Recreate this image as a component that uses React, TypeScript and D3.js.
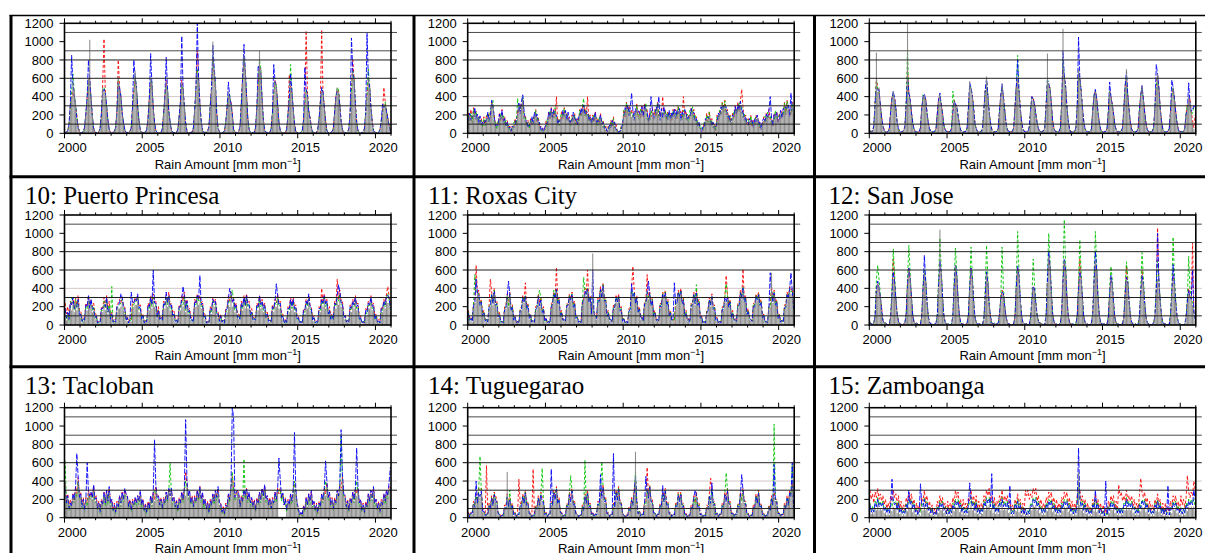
import React from "react";
import * as d3 from "d3";

// Monthly rain totals, Jan 2000 – Dec 2020, one row per year, written in cm (x10 -> mm).
const cm = (s: string): number[] => s.trim().split(/\s+/).map((v) => Number(v) * 10);

// ---------- station 7 ----------
const p7Gray = cm(`
1 1 2 8 25 40 55 48 35 15 6 2
1 0 1 5 20 35 60 102 40 20 5 1
0 1 1 4 18 50 45 42 30 12 3 1
1 0 2 6 22 62 48 40 20 10 4 1
0 1 1 5 25 40 68 50 28 14 3 1
1 0 1 3 15 35 60 55 25 10 2 1
0 0 1 4 20 38 55 48 22 12 3 1
0 1 1 3 16 30 55 50 28 10 2 0
1 0 1 5 24 45 65 58 30 12 3 1
1 1 2 6 28 48 100 70 55 20 5 2
0 0 1 2 10 25 45 40 30 18 4 1
1 0 2 6 30 55 85 70 40 15 4 1
0 1 1 5 26 50 90 72 35 14 3 1
1 0 1 4 20 40 55 50 30 12 3 1
0 0 1 3 18 35 50 45 25 10 2 1
0 0 1 2 12 28 45 40 22 15 6 1
1 0 1 3 15 32 45 42 28 12 3 1
0 1 2 5 20 38 50 45 30 12 4 1
1 0 1 4 22 45 65 58 30 12 3 1
0 1 1 4 20 40 60 50 28 12 3 1
1 0 1 3 12 20 32 30 22 15 8 2`);
const p7Red = cm(`
0 1 3 10 30 38 45 40 30 20 8 2
1 0 2 6 18 40 55 60 35 18 6 1
0 1 2 5 20 55 103 45 28 15 4 1
1 1 2 6 25 80 50 38 22 10 4 1
0 1 2 5 28 45 60 48 26 12 3 1
1 0 1 4 18 40 55 52 28 10 3 1
0 1 1 4 22 42 58 45 24 12 3 1
0 1 1 4 18 35 58 48 30 12 3 0
1 0 2 6 26 50 90 60 32 14 3 1
1 1 2 8 30 50 80 65 50 22 6 2
0 0 1 3 12 30 40 38 35 22 5 1
1 1 2 7 35 62 80 65 42 16 4 1
0 1 1 6 28 55 75 65 38 14 3 1
1 0 1 5 22 42 58 52 32 12 3 1
0 0 1 4 20 64 52 44 26 10 2 1
0 0 1 3 14 30 112 45 25 18 7 1
1 0 1 4 16 35 113 45 30 14 3 1
0 1 2 6 22 40 48 46 32 14 4 1
1 0 1 5 24 48 80 60 32 14 3 1
0 1 1 5 22 42 58 52 30 14 3 1
1 0 1 4 14 24 50 35 25 18 9 3`);
const p7Green = cm(`
1 1 2 9 28 45 65 45 32 18 7 2
0 1 1 6 22 38 58 55 38 20 5 1
1 0 1 5 20 48 50 44 30 14 4 1
0 1 2 7 24 58 45 42 22 12 4 1
1 0 1 6 26 42 62 52 30 14 3 1
0 1 1 4 16 38 58 56 26 12 3 1
0 0 1 5 20 40 52 50 24 12 3 1
1 0 1 4 18 32 52 48 28 11 2 0
0 1 1 6 25 48 70 55 30 12 3 1
1 1 2 7 30 45 85 68 52 20 5 2
0 0 1 3 11 28 42 42 32 20 4 1
1 0 2 7 32 58 82 68 40 16 4 1
0 1 1 6 27 52 80 70 36 14 3 1
1 0 1 5 22 42 56 52 30 12 3 1
0 0 1 4 20 38 75 48 26 10 2 1
0 0 1 3 13 30 48 42 24 16 6 1
1 0 1 4 15 34 48 45 28 12 3 1
0 1 2 5 22 40 50 48 30 12 4 1
1 0 1 5 24 46 68 60 30 12 3 1
0 1 1 5 22 42 70 52 28 12 3 1
1 0 1 4 13 22 30 34 24 16 9 2`);
const p7Blue = cm(`
1 1 3 10 32 85 55 42 30 16 6 2
0 1 2 6 22 40 80 58 38 18 5 1
1 0 1 5 22 45 48 44 30 14 4 1
0 1 2 6 24 55 50 40 22 12 4 1
1 0 2 6 28 80 62 50 28 14 3 1
0 1 1 4 16 38 87 52 26 12 3 1
0 0 1 5 20 40 83 48 24 12 3 1
1 0 1 4 18 35 106 50 28 11 2 0
0 1 1 6 25 50 120 60 32 12 3 1
1 1 2 7 30 50 96 72 55 22 5 2
0 0 1 3 12 28 56 40 32 20 4 1
1 0 2 7 32 60 97 70 40 16 4 1
0 1 1 6 28 74 70 66 36 14 3 1
1 0 1 5 22 75 56 50 30 12 3 1
0 0 1 4 20 38 65 46 26 10 2 1
0 0 1 3 14 72 48 42 24 16 6 1
1 0 1 4 16 34 50 45 28 12 3 1
0 1 2 5 22 40 46 44 30 12 4 1
1 0 1 5 24 104 68 58 30 12 3 1
0 1 1 5 22 110 60 50 28 12 3 1
1 0 1 4 14 32 28 30 24 16 8 2`);

// ---------- station 8 ----------
const p8Gray = cm(`
15 18 16 14 20 22 18 16 12 14 10 8
12 10 14 18 16 20 30 32 14 8 6 10
16 18 20 14 12 10 8 6 4 3 5 8
10 12 20 28 24 30 36 20 14 10 8 6
10 14 12 18 20 16 12 8 4 3 2 4
8 12 18 20 22 18 20 24 16 12 10 14
18 20 22 20 16 18 12 10 14 18 16 12
10 14 20 22 24 26 22 20 18 16 14 12
14 16 18 12 10 14 16 12 8 6 4 2
4 6 8 10 12 8 4 2 0 1 4 8
20 24 28 26 22 24 18 20 16 22 26 20
18 22 24 20 26 28 18 14 16 20 22 18
20 24 28 20 16 22 18 24 20 16 18 20
16 18 20 22 18 20 24 22 16 18 20 22
18 16 14 20 22 24 18 16 12 10 8 6
2 4 8 12 16 14 18 12 10 8 6 4
14 18 20 24 28 26 30 24 18 16 14 12
16 20 24 22 26 28 30 24 20 16 14 12
10 12 14 10 8 12 14 16 10 8 6 10
12 14 16 18 20 14 12 10 16 20 18 14
16 20 18 22 28 24 30 26 20 24 28 22`);
const p8Red = cm(`
22 14 26 12 28 20 24 14 18 12 16 8
18 10 20 16 22 18 34 28 20 8 12 10
22 14 26 12 18 8 14 5 8 2 8 6
16 10 26 22 32 24 38 18 20 8 14 6
16 10 18 14 26 12 18 6 8 2 5 3
14 8 24 16 28 16 26 18 40 10 16 12
24 16 28 18 22 14 18 8 20 14 22 10
16 10 26 18 30 22 28 18 40 14 20 10
20 12 24 10 16 10 22 10 14 5 8 2
8 4 14 8 18 6 10 2 3 1 8 6
26 18 34 22 30 20 26 18 24 20 32 18
24 16 30 18 32 24 26 12 22 18 28 16
26 18 34 18 24 18 40 20 26 14 24 18
22 14 26 18 26 16 30 20 24 16 40 20
24 14 20 16 28 20 26 14 18 8 12 5
5 2 12 10 22 12 24 10 16 6 10 3
20 14 26 20 34 22 36 20 26 12 20 10
22 16 30 20 34 24 36 48 28 14 20 10
16 8 20 8 14 10 20 14 16 6 10 8
18 12 22 16 26 14 18 8 22 18 24 12
22 16 24 18 34 20 36 22 26 20 34 30`);
const p8Green = cm(`
20 14 22 12 26 18 24 12 18 10 14 6
16 8 18 22 12 26 30 36 10 12 4 14
12 22 16 20 10 14 6 9 3 5 3 11
14 9 38 24 30 26 40 16 18 8 12 5
14 11 17 15 25 13 16 6 7 2 4 3
6 16 15 25 18 23 17 28 13 16 8 18
22 17 27 17 21 15 16 8 18 15 20 10
14 12 25 19 29 38 19 25 15 20 12 16
12 21 15 17 8 18 13 16 6 9 3 4
7 4 12 8 16 6 7 1 2 1 7 6
25 20 33 22 27 20 23 17 20 19 30 17
15 27 21 25 23 33 15 18 13 25 19 22
25 20 33 17 21 19 23 21 25 13 23 17
21 15 25 19 23 17 29 19 21 15 25 19
15 21 12 25 19 29 15 20 10 14 6 9
5 3 12 10 20 12 23 10 14 6 9 3
19 15 25 21 33 23 35 21 23 13 19 10
13 25 21 27 23 33 27 29 17 21 11 16
14 10 19 8 12 10 18 14 14 6 10 8
10 19 13 23 17 19 10 14 13 25 15 18
21 17 23 19 33 21 35 23 25 21 33 19`);
const p8Blue = cm(`
13 22 14 19 18 28 15 21 10 19 8 12
10 14 11 23 13 18 36 28 18 6 10 8
21 15 25 11 16 8 12 5 7 2 8 6
8 16 18 33 21 35 42 25 12 14 6 9
8 18 10 23 17 21 10 12 3 6 2 6
11 10 23 17 27 15 25 21 20 10 14 12
16 25 19 25 14 23 10 14 12 23 14 16
9 18 18 27 21 31 20 24 23 14 18 10
18 14 23 10 14 12 20 10 12 5 7 2
3 9 6 14 10 12 3 4 1 3 3 11
18 28 25 31 19 28 44 25 14 27 23 25
22 19 29 18 31 25 23 12 20 40 27 15
18 29 25 40 14 27 16 29 18 21 15 25
14 23 18 27 16 25 21 27 14 23 18 26
22 14 18 17 27 21 23 13 16 8 12 5
1 7 6 16 14 18 16 15 8 12 4 7
12 22 18 29 25 31 28 29 16 20 12 15
20 18 29 20 31 25 35 22 25 14 18 10
9 16 12 14 6 16 12 20 9 12 4 14
16 12 21 16 25 40 16 8 21 18 23 12
14 25 16 27 25 29 27 31 18 44 25 27`);

// ---------- station 9 ----------
const p9Gray = cm(`
2 1 2 5 30 88 45 50 30 15 8 3
2 1 1 4 20 35 46 38 25 10 4 2
1 1 2 6 30 120 40 35 20 10 4 1
2 1 1 5 25 40 42 35 22 10 4 2
1 1 2 4 20 35 43 30 20 8 3 1
2 1 1 4 20 34 30 28 18 8 3 1
1 1 1 5 25 57 50 40 25 10 4 2
2 1 2 5 25 45 62 40 22 10 4 1
1 1 1 4 22 40 54 38 24 10 3 1
1 1 2 5 28 50 60 45 26 12 4 1
2 1 2 6 24 38 35 30 20 10 4 2
1 1 2 6 30 87 55 48 30 12 5 2
1 1 2 5 30 114 60 50 28 12 4 1
2 1 1 5 28 70 58 45 26 12 4 2
1 1 2 4 24 40 45 36 22 10 4 1
1 1 1 4 22 45 38 30 20 8 3 1
2 1 2 5 26 50 70 40 24 10 4 1
1 1 1 4 24 40 52 36 22 10 3 1
2 1 2 5 28 50 65 48 26 12 4 2
1 1 1 4 22 40 50 36 22 10 3 1
1 1 2 4 20 30 40 35 22 12 5 2`);
const p9Red = cm(`
3 2 3 8 35 60 50 45 32 18 9 4
2 1 2 6 25 40 42 40 28 12 5 2
1 2 3 8 34 70 45 38 24 12 5 2
2 1 2 6 28 38 40 38 24 12 5 2
2 1 2 5 22 38 40 32 22 10 4 2
2 2 1 6 24 36 32 30 20 10 4 2
1 2 2 6 28 50 48 42 28 12 5 2
2 1 3 6 28 48 55 42 24 12 5 2
2 1 2 5 25 42 50 40 26 12 4 2
1 2 2 6 30 52 58 48 28 14 5 2
3 1 2 7 26 40 38 32 22 12 5 3
1 2 3 7 32 55 50 50 32 14 6 2
2 1 2 6 32 70 62 52 30 14 5 2
2 2 1 6 30 65 60 48 28 14 5 2
2 1 2 5 26 42 46 38 24 12 5 2
1 2 2 5 24 46 40 32 22 10 4 2
2 1 3 6 28 52 60 42 26 12 5 2
2 1 2 5 26 42 50 38 24 12 4 2
2 2 3 6 30 52 65 50 28 14 5 2
1 2 2 5 24 42 48 38 24 12 4 2
2 1 2 5 22 32 30 38 24 14 6 20`);
const p9Green = cm(`
2 2 3 7 32 58 48 46 30 16 8 3
1 2 2 5 22 38 44 36 26 11 5 2
2 1 2 7 32 90 42 36 22 11 4 2
1 2 2 5 26 42 38 36 22 11 4 1
2 1 1 5 21 36 40 31 21 9 4 2
1 2 2 5 46 35 31 29 19 9 3 2
2 1 2 5 26 52 48 41 26 11 4 2
1 2 2 6 26 46 58 41 23 11 4 1
2 1 2 5 23 41 50 39 25 11 4 1
1 2 2 6 29 51 85 46 27 13 4 2
2 1 2 6 25 39 36 31 21 11 4 2
2 1 2 6 31 60 52 49 31 13 5 2
1 2 2 5 31 80 60 51 29 13 4 2
2 1 2 6 29 68 58 46 27 13 4 2
1 2 1 5 25 42 46 37 23 11 4 1
2 1 2 5 23 46 39 31 21 9 4 2
1 2 2 6 27 52 62 41 25 11 4 2
2 1 2 5 25 41 50 37 23 11 4 1
1 2 2 6 29 51 62 49 27 13 4 2
2 1 2 5 23 41 50 37 23 11 4 1
1 2 2 5 21 31 25 30 20 22 28 30`);
const p9Blue = cm(`
3 1 2 8 34 50 46 48 30 17 8 3
2 1 2 5 24 37 46 38 27 11 5 2
1 2 3 7 33 60 44 37 23 11 5 1
2 1 2 6 27 40 43 37 23 11 5 2
1 2 2 5 21 37 44 31 21 9 4 2
2 1 2 5 22 35 32 29 19 9 4 1
1 2 2 6 27 55 50 41 27 11 5 2
2 1 2 6 27 47 60 41 23 11 4 1
1 2 2 5 24 41 54 39 25 11 4 2
2 1 2 6 29 51 80 46 27 13 5 2
2 2 2 7 25 40 38 31 21 11 5 2
1 2 3 6 31 58 54 49 31 13 5 2
2 1 2 6 31 90 62 51 29 13 5 1
1 2 2 6 29 105 60 46 27 13 5 2
2 1 2 5 25 41 48 37 23 11 4 2
1 2 2 5 23 56 40 31 21 9 4 1
2 1 2 6 27 52 68 41 25 11 4 2
1 2 2 5 25 41 52 37 23 11 4 2
2 1 2 6 29 75 64 49 27 13 5 2
1 2 2 5 23 58 50 37 23 11 4 1
2 1 2 5 21 25 55 32 24 26 30 28`);

// ---------- 10: Puerto Princesa ----------
const ppGray = cm(`
12 5 9 4 18 16 22 14 24 16 22 10
8 3 4 5 16 16 26 18 22 14 16 8
6 1 2 2 12 14 22 16 24 12 18 6
8 2 3 3 14 18 18 20 24 16 12 5
4 1 4 4 18 20 22 22 26 14 14 6
6 2 3 3 16 16 24 18 26 20 18 8
12 6 5 5 18 18 26 20 28 16 16 10
8 3 3 2 14 16 22 20 26 14 20 12
10 5 4 4 20 20 26 22 24 18 18 8
6 1 2 1 12 12 22 20 20 10 8 3
6 3 3 2 10 14 22 20 28 20 22 14
16 8 7 6 18 16 24 18 26 18 18 10
10 5 5 5 16 16 24 18 20 14 16 8
8 3 3 3 14 14 20 20 26 18 18 8
6 2 3 2 12 14 22 16 22 14 14 6
4 1 2 1 10 12 20 18 24 16 12 5
4 1 2 2 12 14 22 20 26 18 20 12
12 6 7 6 18 18 26 22 30 20 18 8
6 3 3 3 14 14 20 18 24 16 16 6
4 1 2 1 10 10 18 18 24 16 16 6
6 3 3 2 12 14 20 18 26 24 24 14`);
const ppRed = cm(`
24 12 20 8 26 22 30 20 30 22 32 16
16 6 8 6 24 20 32 22 28 20 24 12
12 3 4 4 20 18 30 20 32 18 26 10
14 4 6 5 22 24 28 24 30 22 20 8
10 3 8 6 26 24 30 26 32 20 22 10
12 4 6 4 24 20 32 24 34 26 26 12
20 8 10 6 26 22 34 26 36 22 24 14
16 6 6 4 22 20 32 26 36 20 28 16
18 8 8 6 28 24 34 28 32 24 26 12
12 3 4 2 20 16 30 24 28 16 14 6
12 4 6 4 18 20 32 26 36 26 30 20
24 12 12 8 26 20 32 24 34 24 26 14
18 8 8 6 24 20 32 24 28 20 24 12
14 6 6 4 22 18 28 24 34 24 26 12
12 4 6 4 20 18 30 22 30 20 22 10
10 3 4 2 18 16 28 22 32 22 20 8
10 3 4 4 20 18 40 24 34 24 28 16
20 10 12 8 26 22 50 28 38 26 26 12
12 4 6 4 22 18 28 22 32 22 24 10
10 3 4 2 18 16 26 22 32 22 24 10
12 4 6 4 20 18 28 22 34 42 32 20`);
const ppGreen = cm(`
16 6 12 4 22 30 26 16 28 18 26 12
12 3 6 5 20 18 30 20 26 16 20 8
10 2 3 2 16 16 26 18 28 14 22 6
42 2 4 3 18 20 22 24 28 18 16 5
8 2 6 4 22 22 26 26 30 16 18 6
10 2 5 3 20 18 28 20 30 22 22 8
16 6 8 5 22 20 30 22 32 18 20 10
12 4 5 2 18 18 26 22 30 16 24 12
14 5 6 3 24 22 30 26 28 20 22 8
10 2 3 2 16 14 26 22 24 12 12 4
10 3 5 2 14 16 26 24 32 38 26 16
20 8 10 6 22 18 28 20 30 20 22 10
14 5 7 5 20 18 28 20 24 16 20 8
12 4 5 3 18 16 24 22 30 20 22 8
10 2 5 2 16 16 26 18 26 16 18 6
8 2 4 2 14 14 24 20 28 18 16 5
8 2 4 2 16 16 26 22 30 20 24 12
16 6 10 6 22 20 30 26 34 22 22 8
10 3 5 3 18 16 24 20 28 18 20 6
8 2 4 2 14 12 22 20 28 18 20 6
10 3 5 2 16 16 24 20 30 34 28 16`);
const ppBlue = cm(`
18 8 14 6 24 22 30 18 22 20 28 10
12 4 7 5 22 20 32 18 28 18 18 8
10 2 4 3 18 18 22 20 30 14 18 6
12 3 5 3 20 22 24 34 30 20 18 5
8 2 6 36 24 24 28 26 34 18 20 6
10 2 5 3 22 20 30 22 60 24 24 8
16 6 8 5 24 22 36 24 32 20 22 10
12 4 5 2 20 20 28 42 32 18 26 14
16 5 6 3 26 24 32 28 54 22 24 8
10 2 3 2 18 16 28 24 26 12 12 4
10 3 5 2 16 18 28 40 34 24 28 18
22 8 10 6 24 20 30 22 32 22 22 10
14 5 7 5 22 20 32 22 26 18 22 8
12 4 5 3 20 18 26 45 32 22 24 8
10 2 5 2 18 18 28 20 28 18 20 6
8 2 4 2 16 16 26 22 34 20 18 5
8 2 4 2 18 18 28 24 32 22 26 12
16 6 10 6 24 22 32 44 36 24 24 8
10 3 5 3 20 18 26 22 30 20 22 6
8 2 4 2 16 14 24 22 30 20 22 6
10 3 5 2 18 18 26 22 32 32 30 18`);

// ---------- 11: Roxas City ----------
const rxGray = cm(`
10 4 5 3 18 24 30 34 30 22 22 10
10 3 4 2 16 20 30 22 34 22 18 8
8 2 3 2 14 18 28 20 30 16 14 5
6 2 3 2 12 16 26 24 28 18 16 6
8 2 4 2 14 18 28 20 24 14 12 3
4 1 3 2 16 22 30 28 36 24 22 10
10 4 5 3 18 20 28 26 30 20 18 6
6 2 3 2 20 26 34 32 36 26 24 12
78 12 9 6 24 26 36 28 40 26 22 10
10 4 5 2 16 18 26 24 28 16 12 3
4 1 3 2 12 16 34 30 32 24 24 14
14 6 7 4 20 24 32 28 30 22 22 10
10 4 5 3 18 20 30 28 32 22 20 10
10 4 5 3 20 24 32 30 34 24 22 10
10 4 5 2 18 22 30 22 32 22 20 8
6 1 3 1 10 14 24 20 28 18 14 5
4 1 3 2 14 16 26 24 28 20 20 8
10 4 5 3 18 22 32 28 38 26 24 12
12 6 5 3 18 20 28 26 30 22 20 8
8 2 3 2 16 20 57 24 32 22 20 8
8 2 4 2 16 20 30 28 36 34 32 18`);
const rxRed = cm(`
16 6 8 5 24 26 65 34 38 24 28 12
16 6 6 4 22 50 36 26 40 24 26 12
14 4 4 3 20 22 34 22 36 18 22 8
10 3 4 3 18 20 32 26 46 20 24 10
12 4 5 3 20 22 34 24 30 16 20 5
8 2 4 3 22 26 36 30 63 26 30 12
16 6 7 4 24 22 34 28 36 22 26 10
10 4 4 3 26 28 40 34 60 28 32 14
22 14 12 8 30 28 42 30 46 28 30 12
16 6 7 4 22 20 32 26 34 18 20 5
8 2 4 3 18 20 40 64 38 26 32 16
20 8 9 5 26 26 55 30 36 24 30 12
16 6 7 4 24 22 36 30 38 24 28 12
16 6 7 4 26 26 38 32 40 26 30 12
16 6 7 4 24 24 36 26 38 24 28 10
10 3 4 2 16 18 30 24 34 20 22 8
8 2 4 3 20 20 32 54 34 22 28 10
16 6 7 4 24 24 38 30 61 28 32 14
18 8 7 4 24 22 34 30 36 24 28 10
12 4 4 3 22 22 42 28 38 24 28 10
12 4 5 3 22 22 36 30 42 38 40 20`);
const rxGreen = cm(`
14 5 7 4 22 55 36 36 34 22 26 10
14 4 6 3 20 22 34 24 38 22 24 10
12 3 4 2 18 20 32 20 34 16 20 6
9 2 4 2 16 18 30 26 32 18 22 8
11 3 5 3 18 20 32 38 28 14 18 4
7 2 4 2 20 24 38 30 40 24 28 10
14 5 6 4 22 22 32 28 34 20 24 8
9 3 4 2 24 52 38 34 40 26 30 12
30 12 10 7 28 26 40 30 44 26 28 10
14 5 6 3 20 20 30 26 32 16 18 4
7 2 4 2 16 18 38 32 36 24 30 14
18 7 8 4 24 24 36 30 34 22 28 10
14 5 6 4 22 20 34 30 36 22 26 10
14 5 6 4 24 24 36 32 38 24 28 10
14 5 6 3 22 22 34 24 44 22 26 8
9 2 4 2 14 16 28 22 32 18 20 6
7 2 4 2 18 18 30 45 32 20 26 8
14 5 6 4 22 22 36 30 42 26 30 12
16 7 6 4 22 20 32 28 34 22 26 8
11 3 4 2 20 20 38 26 36 22 26 8
11 3 5 3 20 20 34 30 40 36 38 18`);
const rxBlue = cm(`
13 5 7 4 21 24 50 35 33 21 25 9
13 4 6 3 19 21 33 23 37 21 23 9
11 3 4 2 17 19 31 48 33 15 19 5
9 2 4 2 15 17 29 25 31 17 21 7
11 3 5 3 17 19 31 21 27 13 17 4
7 2 4 2 19 23 33 29 39 23 27 9
13 5 6 4 21 21 31 27 33 19 23 7
9 3 4 2 23 27 37 33 39 25 29 11
60 12 10 7 27 25 39 29 43 25 27 9
13 5 6 3 19 19 29 25 31 15 17 4
7 2 4 2 15 17 45 31 35 23 29 13
17 7 8 4 23 23 35 48 33 21 27 9
13 5 6 4 21 19 33 29 35 21 25 9
13 5 6 46 23 23 35 31 37 23 27 9
13 5 6 3 21 21 33 23 35 21 25 7
9 2 4 2 13 15 27 21 31 17 19 5
7 2 4 2 17 17 29 25 31 19 25 7
13 5 6 4 21 21 35 29 41 25 29 11
15 7 6 4 21 19 31 27 33 21 25 7
11 3 4 2 19 57 37 25 35 21 25 7
11 3 5 3 19 19 33 29 39 57 37 17`);

// ---------- 12: San Jose ----------
const sjGray = cm(`
4 1 1 2 10 35 45 42 30 12 4 2
2 1 0 1 8 30 50 45 28 10 3 1
1 0 1 2 12 40 60 50 30 10 3 1
2 1 0 1 8 35 55 48 25 8 2 1
1 0 1 2 10 40 104 60 30 10 3 1
1 1 0 1 8 40 65 55 28 9 2 1
1 0 1 2 10 38 60 50 26 8 3 1
1 1 0 1 6 30 55 48 22 8 2 1
2 1 1 2 10 25 35 32 20 8 3 1
1 0 0 1 10 40 60 55 28 10 3 1
1 1 0 1 6 24 40 38 24 10 4 2
2 1 0 1 10 45 75 65 35 12 4 1
1 0 1 2 12 45 70 60 32 10 3 1
1 1 0 1 10 35 55 50 28 9 3 1
1 0 1 2 12 45 70 60 30 10 3 1
1 1 0 1 8 30 50 45 24 8 2 1
1 0 1 1 8 32 50 46 26 9 3 1
1 1 0 1 8 32 50 45 24 9 3 1
1 0 1 2 10 35 50 45 26 10 3 1
1 1 0 1 10 32 50 45 25 9 3 1
1 0 0 1 8 24 35 30 28 22 12 5`);
const sjRed = cm(`
3 1 1 2 10 40 45 38 30 20 5 2
2 1 0 1 9 35 72 48 28 11 4 1
1 0 1 2 12 45 62 50 30 11 3 1
2 1 0 1 9 40 56 48 26 9 3 1
1 0 1 2 10 45 65 58 30 11 3 1
1 1 0 1 9 42 60 52 28 10 3 1
1 0 1 2 10 40 62 50 26 9 3 1
1 1 0 1 7 34 56 46 22 9 2 1
2 1 1 2 11 30 38 34 20 9 3 1
1 0 0 1 10 42 62 54 28 10 3 1
1 1 0 1 7 26 42 38 24 11 4 2
2 1 0 1 10 48 72 62 34 12 4 1
1 0 1 2 12 48 68 58 30 10 3 1
1 1 0 1 10 38 72 50 28 9 3 1
1 0 1 2 12 48 66 58 30 10 3 1
1 1 0 1 8 32 52 44 24 8 2 1
1 0 1 1 8 34 65 46 26 9 3 1
1 1 0 1 8 34 60 44 24 9 3 1
1 0 1 2 10 38 106 48 26 10 3 1
1 1 0 1 10 34 55 44 25 9 3 1
1 0 0 1 8 26 40 30 28 90 14 6`);
const sjGreen = cm(`
3 1 1 2 12 50 65 50 34 14 5 2
2 1 0 1 10 40 83 55 30 12 4 1
1 0 1 2 14 50 87 58 32 12 4 1
2 1 0 1 10 45 60 50 28 9 3 1
1 0 1 2 12 50 95 62 32 11 3 1
1 1 0 1 10 50 84 58 30 10 3 1
1 0 1 2 12 45 85 56 28 9 3 1
1 1 0 1 8 40 87 52 24 9 3 1
2 1 1 2 12 30 85 40 22 9 3 1
1 0 0 1 12 50 102 60 30 11 3 1
1 1 0 1 8 30 72 45 26 11 4 2
2 1 0 1 12 55 100 70 38 13 4 1
1 0 1 2 14 55 115 68 34 11 3 1
1 1 0 1 12 45 93 58 30 10 3 1
1 0 1 2 14 55 102 65 32 11 3 1
1 1 0 1 10 40 64 50 26 9 3 1
1 0 1 1 10 40 69 52 28 10 3 1
1 1 0 1 10 40 79 52 26 10 3 1
1 0 1 2 12 45 70 50 28 11 3 1
1 1 0 1 12 40 96 52 27 10 3 1
1 0 0 1 10 30 75 40 30 24 14 6`);
const sjBlue = cm(`
3 1 1 2 10 38 48 40 30 16 5 2
2 1 0 1 8 32 58 46 28 11 4 1
1 0 1 2 12 42 62 50 30 11 3 1
2 1 0 1 9 38 76 48 26 9 3 1
1 0 1 2 10 42 70 58 30 11 3 1
1 1 0 1 9 42 66 54 28 10 3 1
1 0 1 2 10 40 62 50 26 9 3 1
1 1 0 1 7 32 58 46 22 9 2 1
2 1 1 2 11 28 36 34 20 9 3 1
1 0 0 1 10 42 64 54 28 10 3 1
1 1 0 1 7 26 42 40 24 11 4 2
2 1 0 1 10 48 80 64 34 12 4 1
1 0 1 2 12 48 72 60 30 10 3 1
1 1 0 1 10 38 58 50 28 9 3 1
1 0 1 2 12 48 80 60 30 10 3 1
1 1 0 1 8 32 54 44 24 8 2 1
1 0 1 1 8 34 52 46 26 9 3 1
1 1 0 1 8 34 54 44 24 9 3 1
1 0 1 2 10 38 100 48 26 10 3 1
1 1 0 1 10 34 66 44 25 9 3 1
1 0 0 1 8 26 38 30 28 60 14 6`);

// ---------- 13: Tacloban (gauge gap Oct 2013 – Mar 2014) ----------
const tcGray = cm(`
40 16 22 10 14 12 22 18 28 24 40 22
22 12 18 8 18 14 26 22 24 20 30 18
18 10 14 6 16 14 24 14 26 16 28 14
16 8 12 5 14 12 20 14 24 18 26 24
20 12 16 8 16 14 18 14 20 16 24 12
16 8 12 5 14 10 20 14 24 18 30 20
20 14 18 10 18 16 24 18 28 22 26 16
18 12 16 8 18 16 24 18 28 24 35 22
24 16 20 12 20 18 26 20 30 18 22 12
16 10 14 6 16 14 22 16 26 20 28 14
12 5 8 3 12 12 22 18 30 40 30 20
22 28 22 12 20 18 26 22 28 18 22 14
18 12 16 8 18 16 24 18 28 22 30 18
20 14 18 10 18 16 24 18 28 0 0 0
0 0 0 6 16 14 22 16 26 30 26 14
6 2 4 2 10 8 18 12 22 16 24 12
14 8 12 5 14 12 22 18 28 24 34 20
22 14 18 10 18 16 26 22 32 30 40 24
20 12 16 8 18 16 24 18 28 24 28 14
16 8 12 5 14 12 22 16 26 20 28 14
16 10 14 6 16 14 22 16 26 22 30 34`);
const tcRed = cm(`
36 18 26 12 20 14 26 18 34 26 44 24
28 14 22 10 22 16 30 22 28 22 34 20
24 10 18 8 20 14 28 16 30 18 32 16
20 8 16 6 18 12 24 16 28 20 30 26
24 12 20 8 20 14 22 16 24 18 28 14
20 8 16 6 18 10 24 16 28 20 34 22
24 14 22 10 22 16 28 18 32 24 30 18
22 12 20 8 22 16 28 18 32 50 38 24
28 16 24 12 24 18 30 20 34 20 26 14
20 10 18 6 20 14 26 18 30 22 32 16
16 5 12 3 16 12 26 18 34 45 34 22
26 30 26 12 24 18 30 22 32 20 26 16
22 12 20 8 22 16 28 20 32 24 34 20
24 14 22 10 22 16 28 20 32 26 32 20
26 14 22 8 20 14 26 18 30 40 30 16
10 3 6 2 14 8 22 14 26 18 28 14
18 8 16 5 18 12 26 18 32 26 38 22
26 14 22 10 22 16 30 22 36 32 44 26
24 12 20 8 22 16 28 20 32 26 32 16
20 8 16 5 18 12 26 18 30 22 32 16
20 10 18 6 20 14 26 18 30 24 34 30`);
const tcGreen = cm(`
62 14 20 8 14 10 22 16 28 22 40 20
22 10 16 6 18 12 26 20 24 18 30 16
18 8 14 4 16 12 24 12 26 14 28 12
16 6 12 4 14 10 20 12 24 16 26 22
20 10 16 6 16 12 18 12 20 14 24 10
16 6 12 4 14 8 20 12 24 30 30 18
20 12 18 8 18 14 24 16 28 60 26 14
18 10 16 6 18 14 24 16 28 40 34 20
24 14 20 10 20 16 26 18 30 16 22 10
16 8 14 4 16 12 22 14 26 18 28 12
12 4 8 2 12 10 22 16 30 50 30 18
22 26 22 10 20 16 64 20 28 16 22 12
18 10 16 6 18 14 24 16 28 20 30 16
20 12 18 8 18 14 24 16 28 30 30 18
24 14 20 6 16 12 22 14 26 40 26 12
6 2 4 2 10 6 18 10 22 14 24 10
14 6 12 4 14 10 22 16 28 40 34 18
22 12 18 8 18 14 26 20 32 90 40 22
20 10 16 6 18 14 24 16 28 40 28 12
16 6 12 4 14 10 22 14 26 18 28 12
16 8 14 4 16 12 22 14 26 20 30 30`);
const tcBlue = cm(`
32 16 24 10 16 12 26 20 32 70 46 22
26 12 20 8 20 60 28 24 28 22 36 20
22 10 16 6 18 14 28 16 30 18 34 16
20 8 14 6 16 12 24 16 28 20 32 26
24 12 18 8 18 14 22 16 24 18 30 14
20 8 14 6 16 10 24 16 28 85 36 22
24 14 20 10 20 16 28 20 32 24 32 18
22 12 18 8 20 16 28 20 32 107 42 24
30 16 22 12 22 18 30 22 34 20 28 14
20 10 16 6 18 14 26 18 30 22 34 16
16 6 10 4 14 12 26 20 34 120 110 22
28 30 26 12 22 18 30 24 32 20 28 16
22 12 18 8 20 16 28 20 32 24 36 20
24 14 20 10 20 16 28 20 32 65 42 22
27 14 20 8 18 14 26 18 30 93 32 16
10 3 6 3 12 8 22 14 26 18 30 14
18 8 14 6 16 12 26 20 32 62 40 22
28 14 20 10 20 16 30 24 36 96 48 26
24 12 18 8 20 16 28 20 32 76 34 16
20 8 14 6 16 12 26 18 30 22 34 16
20 10 16 6 18 14 26 18 30 24 38 55`);

// ---------- 14: Tuguegarao ----------
const tgGray = cm(`
4 1 4 4 14 12 20 16 24 22 26 6
6 2 3 2 12 10 18 14 22 18 14 4
3 1 2 2 10 10 50 12 16 10 10 2
4 1 3 2 12 12 20 16 24 14 12 4
3 1 2 2 10 10 18 14 22 16 14 3
4 1 3 2 14 14 24 18 28 16 16 5
4 1 2 2 12 12 22 16 26 14 12 4
3 0 2 1 10 8 20 16 24 12 10 2
4 1 3 2 14 14 24 20 30 16 16 4
4 1 3 2 12 12 24 18 28 16 12 4
2 0 2 1 8 8 16 14 24 72 14 4
6 2 3 2 14 14 26 20 30 16 14 5
4 1 3 2 12 12 22 16 26 14 12 4
4 1 3 2 12 12 22 16 22 12 10 3
3 1 2 2 10 10 18 14 22 12 10 2
3 1 2 2 10 10 20 16 24 14 12 3
4 1 3 2 12 12 22 16 26 16 12 4
4 1 3 2 12 12 22 16 26 16 12 4
3 1 2 2 10 10 20 16 24 12 10 2
3 1 2 2 10 8 18 14 22 18 14 4
4 1 3 2 12 10 18 14 24 24 32 10`);
const tgRed = cm(`
6 2 6 5 18 14 26 18 32 30 32 10
8 3 57 4 16 12 24 16 28 24 20 5
5 1 3 3 14 12 26 14 22 12 16 4
6 2 4 42 16 14 26 18 30 16 18 5
5 1 53 3 14 12 24 16 28 22 20 4
6 2 4 3 18 16 30 22 34 18 22 6
6 2 3 3 16 14 28 20 32 16 18 5
5 1 3 2 14 10 26 18 30 14 16 4
6 2 4 3 18 16 30 24 36 20 22 5
6 2 4 3 16 14 30 22 34 18 18 5
3 1 3 2 12 10 22 16 30 40 20 5
8 3 4 3 18 16 55 24 36 20 20 6
6 2 4 3 16 14 28 20 32 16 18 5
6 2 4 3 16 14 28 20 28 14 16 4
5 1 3 3 14 12 24 16 28 14 16 4
5 1 3 3 14 12 26 43 30 16 18 4
6 2 4 3 16 14 28 20 32 18 18 5
6 2 4 3 16 14 28 20 32 18 18 5
5 1 3 3 14 12 26 18 30 14 16 4
5 1 3 3 14 10 24 16 28 20 20 5
6 2 4 3 16 12 24 16 30 26 38 12`);
const tgGreen = cm(`
5 1 5 5 16 12 24 16 30 67 30 8
7 2 4 3 14 10 22 14 26 20 18 5
4 1 3 2 12 10 24 12 30 10 14 3
5 1 4 3 14 12 24 16 28 14 16 4
4 1 3 2 12 10 22 14 26 54 18 4
5 1 4 3 16 14 28 20 32 16 20 6
5 1 3 2 14 12 26 46 30 14 16 4
4 1 3 2 12 8 63 16 28 12 14 3
5 1 4 3 16 14 28 61 34 18 20 4
5 1 4 3 14 12 28 20 32 16 16 4
3 1 3 2 10 8 20 14 28 50 18 4
7 2 4 3 16 14 30 22 34 18 18 6
5 1 4 3 14 12 26 18 30 14 16 4
5 1 4 3 14 12 26 18 26 12 14 3
4 1 3 2 12 10 22 14 26 12 14 3
4 1 3 2 12 10 24 16 30 14 16 4
5 1 4 3 14 12 26 49 30 16 16 4
5 1 4 3 14 12 26 18 30 16 16 4
4 1 3 2 12 10 24 16 28 12 14 3
4 1 3 2 12 8 22 14 102 18 18 4
5 1 4 3 14 10 22 14 28 24 58 12`);
const tgBlue = cm(`
5 1 5 5 15 11 40 15 27 23 29 7
7 2 4 3 13 9 21 13 25 19 17 4
4 1 3 2 11 9 23 11 19 9 13 3
5 1 4 3 13 11 23 15 27 13 15 4
4 1 3 2 11 9 21 13 25 17 17 3
5 1 4 3 53 13 27 19 31 15 19 5
5 1 3 2 13 11 25 17 29 13 15 4
4 1 3 2 11 7 23 15 27 11 13 3
5 1 4 3 15 13 47 21 33 17 19 4
5 1 4 3 70 11 27 19 31 15 15 4
3 1 3 2 9 7 19 13 27 45 17 4
7 2 4 3 15 45 29 21 33 17 17 5
5 1 4 3 13 11 35 17 29 13 15 4
5 1 4 3 13 11 25 17 25 11 13 3
4 1 3 2 11 9 21 30 25 11 13 3
4 1 3 2 11 9 23 15 38 13 15 3
5 1 4 3 13 11 25 17 29 15 15 4
5 1 4 3 13 11 25 47 29 15 15 4
4 1 3 2 11 9 23 15 27 11 13 3
4 1 3 2 11 7 21 13 58 17 17 4
5 1 4 3 13 9 21 13 27 23 60 11`);

// ---------- 15: Zamboanga ----------
const zbGray = cm(`
8 4 6 4 10 8 14 8 10 8 10 5
6 3 5 3 8 7 12 10 10 5 10 4
5 2 4 2 8 7 12 10 12 6 8 4
4 2 4 2 8 8 14 8 10 5 6 3
4 2 3 1 6 5 10 8 10 5 6 2
5 2 5 3 8 7 12 10 12 6 8 4
6 3 5 3 8 8 14 8 10 5 10 4
5 2 5 4 10 8 14 12 14 8 10 5
8 4 6 4 10 8 14 8 10 8 10 5
6 2 4 2 8 7 12 6 8 3 5 2
4 2 4 2 8 8 14 12 14 8 10 5
6 3 5 3 8 7 12 10 12 6 8 4
6 3 5 3 8 7 12 10 12 6 8 4
5 2 5 3 10 50 14 8 10 5 8 4
5 2 4 2 8 7 12 6 8 3 5 2
3 1 3 1 6 5 10 8 10 5 6 3
5 2 5 3 8 8 14 8 10 8 10 5
6 3 5 3 8 7 12 10 12 6 8 4
5 2 4 2 8 7 12 6 8 3 5 2
4 2 3 1 6 5 10 8 10 5 6 3
5 2 5 3 8 7 12 10 12 10 12 7`);
const zbRed = cm(`
30 20 26 16 28 22 32 20 26 18 24 14
20 10 16 10 24 18 30 22 26 12 24 10
18 8 14 8 22 16 28 18 26 14 20 8
16 6 14 8 22 18 30 16 24 10 18 6
14 4 10 4 18 12 24 16 22 10 16 4
18 8 16 10 22 16 30 22 28 14 20 8
20 10 16 10 22 18 30 16 24 12 24 10
18 8 16 10 24 18 30 24 32 18 24 12
22 12 18 12 24 18 30 16 24 18 24 12
18 8 14 8 20 14 26 14 20 8 16 4
30 24 30 20 26 22 32 26 32 18 24 12
20 10 16 10 22 16 28 22 28 14 22 10
20 10 16 10 22 16 28 22 28 14 22 10
18 8 16 10 24 30 30 18 24 12 20 8
16 6 12 6 20 14 26 14 20 8 16 4
14 4 10 4 18 12 24 18 24 10 18 6
36 24 28 18 24 18 30 18 24 18 24 12
20 10 16 10 24 43 28 22 28 14 22 10
18 8 14 8 20 14 26 14 20 8 16 4
16 6 12 6 18 12 24 18 24 10 18 6
24 14 20 10 22 46 28 22 28 24 40 30`);
const zbGreen = cm(`
16 8 12 7 18 14 22 14 18 14 18 9
12 6 10 6 16 12 20 16 18 10 18 7
11 5 8 5 16 12 20 16 20 12 16 7
10 4 8 5 16 14 22 14 18 10 12 6
10 4 6 3 12 10 18 14 18 10 12 5
11 5 10 6 16 12 20 16 20 12 16 7
12 6 10 6 16 14 22 14 18 10 18 7
11 5 10 7 18 14 22 18 22 14 18 10
16 7 11 7 18 14 22 14 18 14 18 10
12 5 8 5 16 12 20 12 16 6 11 5
10 4 8 5 16 14 22 18 22 14 18 10
12 6 10 6 16 12 20 16 20 12 16 7
12 6 10 6 16 12 20 16 20 12 16 7
11 5 10 6 18 40 22 14 18 10 16 7
11 5 8 5 16 12 20 12 16 6 11 5
8 2 6 3 12 10 18 14 18 10 12 6
11 5 10 6 16 14 22 14 18 14 18 10
12 6 10 6 16 12 20 16 20 12 16 7
11 5 8 5 16 12 20 12 16 6 11 5
10 4 6 3 12 10 18 14 18 10 12 6
11 5 10 6 16 12 20 16 20 16 20 12`);
const zbBlue = cm(`
14 6 10 6 16 12 20 12 16 12 16 8
11 5 9 5 14 42 18 14 16 8 16 6
10 4 7 4 14 10 30 14 18 10 14 6
9 3 7 37 14 12 20 12 16 8 11 5
9 3 6 3 11 8 16 12 16 8 11 4
10 4 9 5 14 10 18 14 18 10 14 6
11 5 9 5 14 38 20 12 16 8 16 6
10 4 9 6 16 12 20 16 20 12 48 9
14 6 10 6 16 12 20 12 16 12 16 9
35 4 7 4 14 10 18 10 14 5 10 4
9 3 7 4 14 12 20 16 20 12 16 9
11 5 9 5 14 10 18 14 18 10 14 6
11 5 9 5 14 10 18 14 18 10 14 6
10 4 9 5 16 76 20 12 16 8 14 6
10 4 7 4 14 10 30 10 14 5 10 4
7 2 40 3 11 8 16 12 16 8 11 5
10 4 9 5 14 12 20 12 16 12 16 9
11 5 9 5 14 10 18 14 18 10 14 6
10 4 7 4 14 10 18 10 14 5 10 4
9 3 35 3 11 8 16 12 16 8 11 5
10 4 9 5 14 10 18 14 18 14 30 20`);

// ---------- layout ----------
const Y_TICKS = [0, 200, 400, 600, 800, 1000, 1200];
const GRID_DARK = [100, 300, 600, 800];
const GRID_MID = [900, 1100];
const GRID_FAINT = [400];
const YEAR_LABELS = [2000, 2005, 2010, 2015, 2020];
const YEARS = d3.range(2000, 2022);

type Panel = { title: string | null; gray: number[]; red: number[]; green: number[]; blue: number[] };
const PANELS: Panel[] = [
  { title: null, gray: p7Gray, red: p7Red, green: p7Green, blue: p7Blue },
  { title: null, gray: p8Gray, red: p8Red, green: p8Green, blue: p8Blue },
  { title: null, gray: p9Gray, red: p9Red, green: p9Green, blue: p9Blue },
  { title: "10: Puerto Princesa", gray: ppGray, red: ppRed, green: ppGreen, blue: ppBlue },
  { title: "11: Roxas City", gray: rxGray, red: rxRed, green: rxGreen, blue: rxBlue },
  { title: "12: San Jose", gray: sjGray, red: sjRed, green: sjGreen, blue: sjBlue },
  { title: "13: Tacloban", gray: tcGray, red: tcRed, green: tcGreen, blue: tcBlue },
  { title: "14: Tuguegarao", gray: tgGray, red: tgRed, green: tgGreen, blue: tgBlue },
  { title: "15: Zamboanga", gray: zbGray, red: zbRed, green: zbGreen, blue: zbBlue },
];

const W = 1205;
const H = 553;
const COL_X = [64.5, 467.7, 869.3];
const ROW_Y = [23.3, 215, 407.7];
const PLOT_W = 326.5;
const PLOT_H = 110;
const CELL_LEFT = [11, 414, 814.5];
const ROW_LINES = [176.7, 366.8];
const TITLE_BASE = [0, 203.5, 394];
const SANS = "'Liberation Sans', Arial, Helvetica, sans-serif";
const SERIF = "'Liberation Serif', 'Times New Roman', serif";

function PanelView({ p, idx }: { p: Panel; idx: number }) {
  const col = idx % 3;
  const row = Math.floor(idx / 3);
  const x0 = COL_X[col];
  const y0 = ROW_Y[row];
  const yb = y0 + PLOT_H;
  const x = d3.scaleLinear().domain([2000, 2021]).range([x0, x0 + PLOT_W]);
  const y = d3.scaleLinear().domain([0, 1200]).range([yb, y0]);
  const tMid = (i: number) => 2000 + (i + 0.5) / 12;
  const line = d3
    .line<number>()
    .x((_, i) => x(tMid(i)))
    .y((v) => y(v));
  const monthW = x(2000 + 1 / 12) - x(2000);
  const clipId = `clip-${idx}`;
  return (
    <g>
      <defs>
        <clipPath id={clipId}>
          <rect x={x0} y={y0} width={PLOT_W} height={PLOT_H} />
        </clipPath>
      </defs>
      {p.title && (
        <text x={CELL_LEFT[col] + 14} y={TITLE_BASE[row]} fontFamily={SERIF} fontSize={25} fill="#000">
          {p.title}
        </text>
      )}
      {GRID_FAINT.map((v) => (
        <line key={`f${v}`} x1={x0} x2={x0 + PLOT_W + 6} y1={y(v)} y2={y(v)} stroke="#d2c6c6" strokeWidth={1} />
      ))}
      <g clipPath={`url(#${clipId})`}>
        <path d={line(p.red) || ""} fill="none" stroke="#ff0000" strokeWidth={0.9} strokeDasharray="3 2" />
        <path d={line(p.green) || ""} fill="none" stroke="#00c400" strokeWidth={0.9} strokeDasharray="3 2" />
        <path d={line(p.blue) || ""} fill="none" stroke="#0000ff" strokeWidth={0.9} strokeDasharray="5 1.5" />
        {p.gray.map((v, i) =>
          v > 0 ? (
            <rect
              key={i}
              x={x(2000 + i / 12) + monthW * 0.08}
              y={y(v)}
              width={monthW * 0.84}
              height={yb - y(v)}
              fill="#858585"
              fillOpacity={0.92}
            />
          ) : null
        )}
      </g>
      {GRID_DARK.map((v) => (
        <line key={`d${v}`} x1={x0} x2={x0 + PLOT_W + 6} y1={y(v)} y2={y(v)} stroke="#1e1e1e" strokeWidth={1} />
      ))}
      {GRID_MID.map((v) => (
        <line key={`m${v}`} x1={x0} x2={x0 + PLOT_W + 6} y1={y(v)} y2={y(v)} stroke="#4a4a4a" strokeWidth={1} />
      ))}
      <rect x={x0} y={y0} width={PLOT_W} height={PLOT_H} fill="none" stroke="#000" strokeWidth={1.6} />
      {Y_TICKS.map((v) => (
        <g key={`y${v}`}>
          <line x1={x0 - 5} x2={x0} y1={y(v)} y2={y(v)} stroke="#000" strokeWidth={1} />
          <text
            x={x0 - 11}
            y={y(v)}
            dy="0.35em"
            textAnchor="end"
            fontFamily={SANS}
            fontSize={13}
            fill="#000"
          >
            {v}
          </text>
        </g>
      ))}
      {YEARS.map((yr) => {
        const major = yr % 5 === 0;
        const len = major ? 5 : 2.5;
        return (
          <g key={`t${yr}`}>
            <line x1={x(yr)} x2={x(yr)} y1={yb} y2={yb + len} stroke="#000" strokeWidth={1} />
            <line x1={x(yr)} x2={x(yr)} y1={y0} y2={y0 - len} stroke="#000" strokeWidth={1} />
          </g>
        );
      })}
      {YEAR_LABELS.map((yr) => (
        <text
          key={`l${yr}`}
          x={x(yr + 0.5)}
          y={yb + 19}
          textAnchor="middle"
          fontFamily={SANS}
          fontSize={13}
          fill="#000"
        >
          {yr}
        </text>
      ))}
      <text x={x0 + PLOT_W / 2} y={yb + 35.3} textAnchor="middle" fontFamily={SANS} fontSize={13} fill="#000">
        Rain Amount [mm mon
        <tspan dy={-5} fontSize={9}>
          −1
        </tspan>
        <tspan dy={5}>]</tspan>
      </text>
    </g>
  );
}

export default function App() {
  return (
    <svg
      width={W}
      height={H}
      viewBox={`0 0 ${W} ${H}`}
      style={{ position: "absolute", left: 0, top: 0, background: "#fff" }}
    >
      <rect x={0} y={0} width={W} height={H} fill="#fff" />
      {PANELS.map((p, i) => (
        <PanelView key={i} p={p} idx={i} />
      ))}
      {/* table rules */}
      <line x1={9.5} x2={W} y1={15.6} y2={15.6} stroke="#000" strokeWidth={1.5} />
      {ROW_LINES.map((yy) => (
        <line key={yy} x1={9.5} x2={W} y1={yy} y2={yy} stroke="#000" strokeWidth={3} />
      ))}
      {CELL_LEFT.map((xx) => (
        <line key={xx} x1={xx} x2={xx} y1={15} y2={H} stroke="#000" strokeWidth={3} />
      ))}
    </svg>
  );
}
